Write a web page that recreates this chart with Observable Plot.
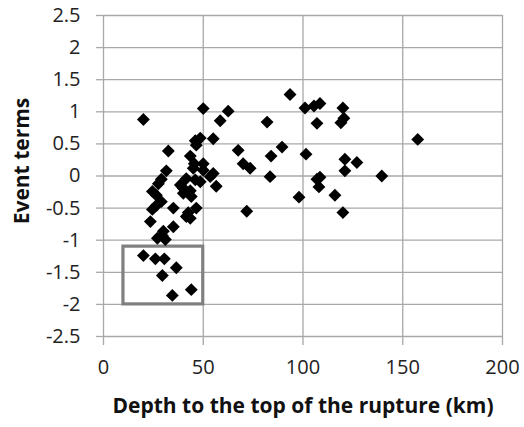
<!DOCTYPE html>
<html>
<head>
<meta charset="utf-8">
<script src="https://cdn.jsdelivr.net/npm/d3@7"></script>
<script src="https://cdn.jsdelivr.net/npm/@observablehq/plot@0.6"></script>
<style>
  html, body { margin: 0; padding: 0; background: #fff; }
</style>
</head>
<body>
<div id="chart"></div>
<script>
// Depth to the top of the rupture (km) and event term for each earthquake
const depth = [
  20, 50, 62.5, 58.5, 46, 48.5, 55, 46.5, 32.5, 67.5, 43.5, 70, 73.5,
  45.5, 50, 45, 50, 55, 53.5, 31.5, 29, 27.5, 38.5, 41.5, 46, 48.5, 56.5,
  40, 43.5, 24.5, 26.5, 44, 40, 29, 26.5, 35, 24.5, 46.5, 42.5, 41.5, 43.5,
  71.8, 23.5, 35, 30, 27, 29.5, 31, 20, 26, 30.5, 36.5, 29.5, 44, 34.5,
  93.5, 101, 105.5, 108.5, 120, 120.5, 119, 82, 107, 157.5, 89.5, 84,
  101.5, 121, 127, 121, 83.5, 139.5, 108.5, 107, 108, 98, 116, 120
];
const eventTerm = [
  0.88, 1.05, 1.01, 0.86, 0.55, 0.59, 0.58, 0.48, 0.39, 0.40, 0.31, 0.19, 0.12,
  0.19, 0.19, 0.12, 0.09, 0.04, -0.01, 0.08, -0.05, -0.12, -0.14, -0.04, -0.06, -0.09, -0.16,
  -0.19, -0.23, -0.24, -0.30, -0.32, -0.27, -0.40, -0.46, -0.50, -0.52, -0.50, -0.57, -0.63, -0.66,
  -0.55, -0.71, -0.79, -0.86, -0.97, -0.93, -0.99, -1.24, -1.29, -1.29, -1.43, -1.55, -1.77, -1.86,
  1.27, 1.06, 1.09, 1.13, 1.06, 0.90, 0.83, 0.84, 0.82, 0.57, 0.45, 0.31,
  0.34, 0.26, 0.21, 0.08, -0.01, 0.00, -0.02, -0.05, -0.17, -0.33, -0.30, -0.57
];

// Axis ticks
const xTicks = [0, 50, 100, 150, 200];
const yTicks = [-2.5, -2, -1.5, -1, -0.5, 0, 0.5, 1, 1.5, 2, 2.5];

// Highlighted group of shallow events with strongly negative terms
const boxDepth = [10, 50];
const boxTerm = [-2.0, -1.1];

const xTitle = "Depth to the top of the rupture (km)";
const yTitle = "Event terms";

const events = depth.map((d, i) => ({depth: d, term: eventTerm[i]}));
const box = [{x1: boxDepth[0], x2: boxDepth[1], y1: boxTerm[0], y2: boxTerm[1]}];

const gridColor = "#a8a8a8";
const labelFont = "Open Sans, Liberation Sans, sans-serif";

const chart = Plot.plot({
  width: 524,
  height: 427,
  marginLeft: 103,
  marginRight: 22,
  marginTop: 15,
  marginBottom: 91,
  style: {fontFamily: labelFont, fontSize: "20px", background: "#fff"},
  x: {domain: [0, 200]},
  y: {domain: [-2.5, 2.5]},
  marks: [
    Plot.gridY(yTicks, {stroke: gridColor, strokeOpacity: 1, strokeWidth: 1.3}),
    Plot.gridX(xTicks.slice(1), {stroke: gridColor, strokeOpacity: 1, strokeWidth: 1.3}),
    Plot.ruleX([0], {y1: -2.5, y2: 2.5, stroke: gridColor, strokeWidth: 1.3}),
    Plot.axisY(yTicks, {
      tickSize: 7, tickPadding: 16, stroke: gridColor, strokeWidth: 1.3,
      fill: "#222", fontSize: 20, tickFormat: d => String(d), label: null
    }),
    Plot.axisX(xTicks, {
      tickSize: 9, tickPadding: 14, stroke: gridColor, strokeWidth: 1.3,
      fill: "#222", fontSize: 20, tickFormat: d => String(d), label: null
    }),
    Plot.rect(box, {x1: "x1", x2: "x2", y1: "y1", y2: "y2", fill: "none", stroke: "#808080", strokeWidth: 3.2}),
    Plot.dot(events, {x: "depth", y: "term", symbol: "diamond2", r: 5.8, fill: "#000", stroke: "none"}),
    Plot.text([xTitle], {frameAnchor: "bottom", dy: 76, fontWeight: "bold", fontSize: 21, fill: "#111"}),
    Plot.text([yTitle], {
      frameAnchor: "left", textAnchor: "middle", rotate: -90, dx: -81, dy: -15,
      fontWeight: "bold", fontSize: 21, fill: "#111"
    })
  ]
});

document.getElementById("chart").append(chart);
</script>
</body>
</html>
